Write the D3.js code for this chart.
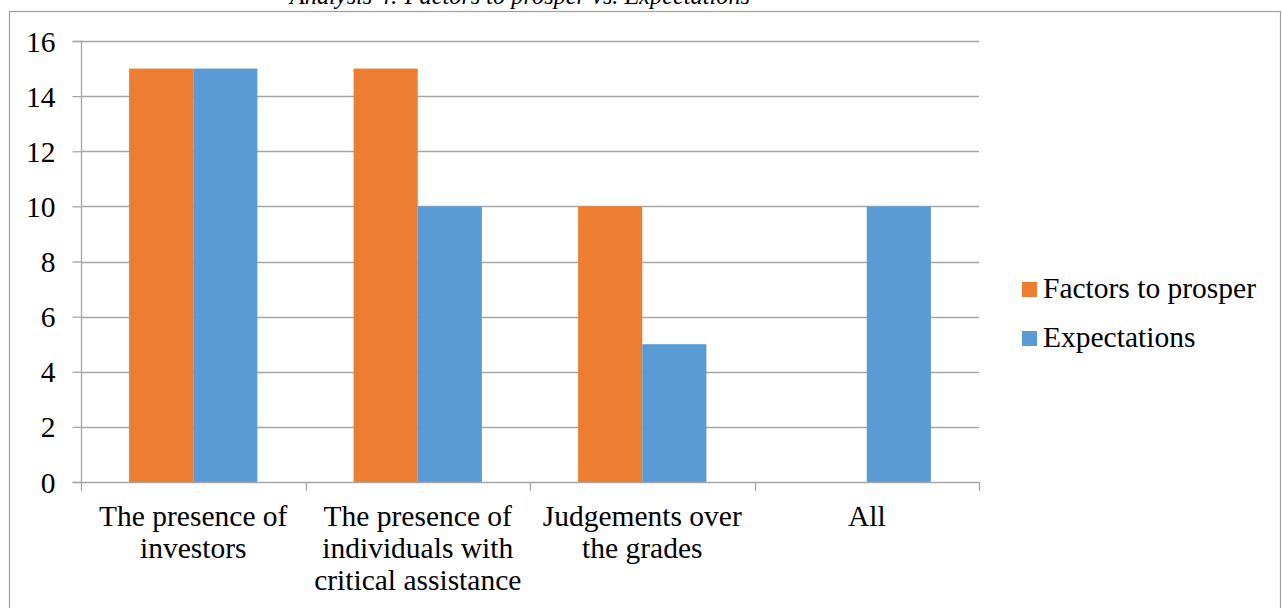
<!DOCTYPE html>
<html><head><meta charset="utf-8">
<script src="https://cdn.jsdelivr.net/npm/d3@7"></script>
<style>html,body{margin:0;padding:0;background:#fff;overflow:hidden}</style>
</head><body>
<svg id="c" width="1282" height="608"></svg>
<script>
const title = "Analysis 4: Factors to prosper vs. Expectations";
const categories = [
  ["The presence of","investors"],
  ["The presence of","individuals with","critical assistance"],
  ["Judgements over","the grades"],
  ["All"]
];
const seriesNames = ["Factors to prosper","Expectations"];
const factors = [15,15,10,0];
const expectations = [15,10,5,10];
const yTicks = [0,2,4,6,8,10,12,14,16];
const colors = ["#ED7D31","#5B9BD5"];

(function(){
const svg = d3.select("#c");
const font = "'Liberation Serif','Times New Roman',serif";
const gridColor = "#a6a6a6";
const fs = 29.5;

// frame
svg.append("rect").attr("x",9.5).attr("y",11.5).attr("width",1271).attr("height",620)
  .attr("fill","none").attr("stroke","#a0a0a0").attr("stroke-width",1.2);

// title (partially cut off at top, as in the reference)
svg.append("text").attr("x",520).attr("y",4).attr("text-anchor","middle")
  .attr("font-family",font).attr("font-style","italic").attr("font-size",24.3).attr("fill","#000")
  .text(title);

const pL = 81, pR = 979, pT = 41, pB = 482;
const x = d3.scaleBand().domain(d3.range(categories.length)).range([pL,pR]).paddingInner(0).paddingOuter(0);
const y = d3.scaleLinear().domain([0,16]).range([pB,pT]);

// gridlines
svg.append("g").selectAll("line").data(yTicks.filter(d=>d>0)).join("line")
  .attr("x1",pL).attr("x2",pR)
  .attr("y1",d=>Math.round(y(d))+0.5).attr("y2",d=>Math.round(y(d))+0.5)
  .attr("stroke",gridColor).attr("stroke-width",1.3);

// bars
const series = [factors, expectations];
const bw = x.bandwidth();
const barW = bw/3.5;
const inner = d3.scaleBand().domain([0,1]).range([0, barW*2]);
const gBars = svg.append("g");
series.forEach((vals,si)=>{
  gBars.selectAll(null).data(vals).join("rect")
    .attr("x",(d,i)=>x(i)+bw*0.75/3.5 + inner(si))
    .attr("width",inner.bandwidth())
    .attr("y",d=>y(d))
    .attr("height",d=>y(0)-y(d))
    .attr("fill",colors[si]);
});

// y axis
const yAxis = d3.axisLeft(y).tickValues(yTicks).tickSize(9).tickPadding(17);
const gy = svg.append("g").attr("transform",`translate(${pL+0.5},0)`).call(yAxis);
gy.select(".domain").attr("stroke",gridColor).attr("stroke-width",1.3).attr("d",`M-9,${pT+0.5}H0V${pB+0.5}H-9`);
gy.selectAll(".tick line").attr("stroke",gridColor).attr("stroke-width",1.3);
gy.selectAll(".tick text").attr("font-family",font).attr("font-size",fs).attr("fill","#000").attr("dy","0.34em");

// x axis
svg.append("line").attr("x1",pL).attr("x2",pR).attr("y1",pB+0.5).attr("y2",pB+0.5)
  .attr("stroke",gridColor).attr("stroke-width",1.3);
svg.append("g").selectAll("line").data(d3.range(categories.length+1)).join("line")
  .attr("x1",i=>Math.round(pL + i*bw)+0.5).attr("x2",i=>Math.round(pL + i*bw)+0.5)
  .attr("y1",pB).attr("y2",pB+9)
  .attr("stroke",gridColor).attr("stroke-width",1.3);

// x labels
const gl = svg.append("g");
categories.forEach((lines,i)=>{
  const t = gl.append("text").attr("text-anchor","middle").attr("font-family",font)
    .attr("font-size",fs).attr("fill","#000");
  lines.forEach((ln,k)=>{
    t.append("tspan").attr("x",x(i)+bw/2).attr("y",526+k*32).text(ln);
  });
});

// legend
const lg = svg.append("g");
seriesNames.forEach((n,i)=>{
  const yy = 282 + i*49;
  lg.append("rect").attr("x",1022).attr("y",yy).attr("width",15).attr("height",15).attr("fill",colors[i]);
  lg.append("text").attr("x",1043).attr("y",yy+16).attr("font-family",font).attr("font-size",fs)
    .attr("fill","#000").text(n);
});
})();
</script>
</body></html>
